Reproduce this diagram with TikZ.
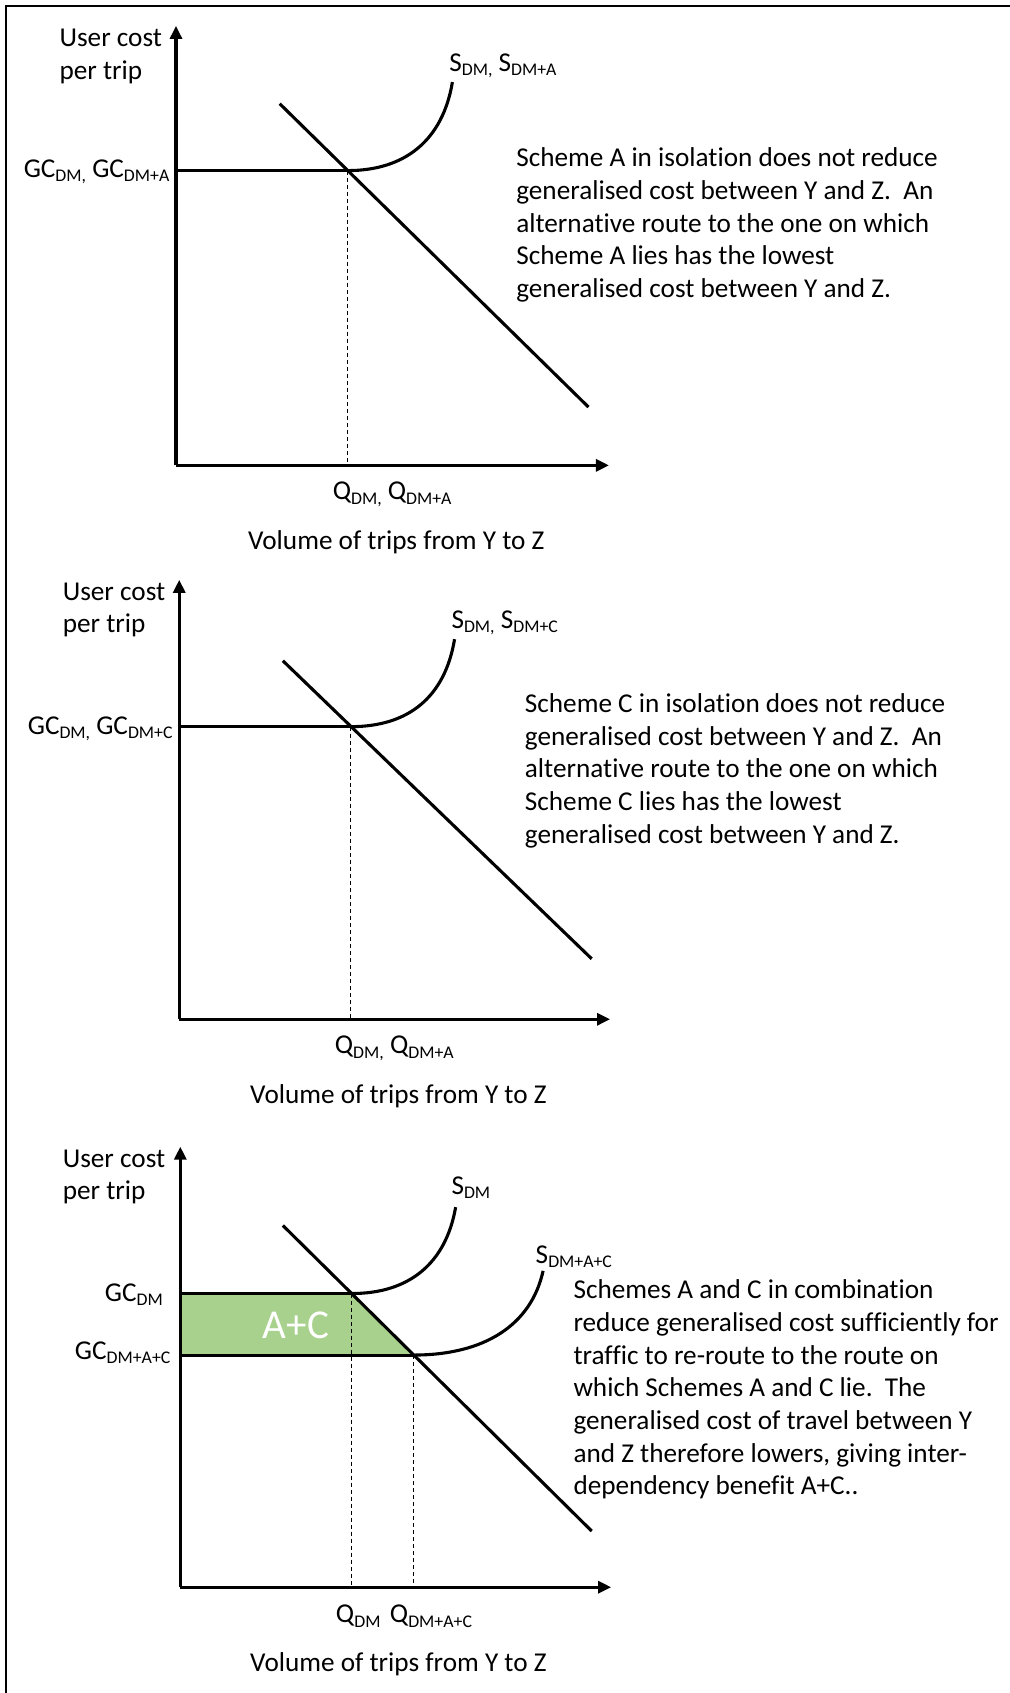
\documentclass[tikz,border=0pt]{standalone}
\usepackage{fontspec}
\setmainfont{Carlito}[Ligatures=NoCommon]
\usetikzlibrary{arrows.meta}
\definecolor{acfill}{HTML}{A9D18E}
\newcommand\sbs[1]{\raisebox{-4.5pt}{\fontsize{17.8}{17.8}\selectfont #1}}
\newcommand\ptext[1]{\parbox[t]{480pt}{\raggedright #1}}
\begin{document}
\begin{tikzpicture}[x=1.0791pt,y=-1.0791pt,
  lbl/.style={inner sep=0pt, font=\fontsize{27.2}{32.6}\selectfont},
  ax/.style={line width=3.1pt, -{Triangle[length=13pt,width=12pt]}},
  crv/.style={line width=3.1pt},
  drop/.style={line width=1pt, dash pattern=on 4pt off 3pt},
  para/.style={lbl, anchor=base west},
  frame/.style={line width=2pt}
]
\useasboundingbox (0,0) rectangle (935,1568);
\draw[frame] (5.6,1568) -- (5.6,5.6) -- (935,5.6);

% ================= Panel 1 =================
\coordinate (o1) at (163,431);
\coordinate (yt1) at (163,24);
\coordinate (xt1) at (564,431);
\coordinate (g1) at (163,158);
\coordinate (e1) at (322,158);
\coordinate (q1) at (322,431);
\coordinate (s1) at (419,76);
\coordinate (d1a) at (259,96);
\coordinate (d1b) at (545,377);
\draw[ax] (o1) -- (yt1);
\draw[ax] (o1) -- (xt1);
\draw[crv] (g1) -- (e1);
\draw[crv] (e1) .. controls +(53,0) and +(-9,54) .. (s1);
\draw[crv] (d1a) -- (d1b);
\draw[drop] (e1) -- (q1);
\node[lbl, anchor=base west] (uc1) at (55,43) {\ptext{User cost\\per trip}};
\node[lbl, anchor=base west] (sl1) at (416,66) {S\sbs{DM,} S\sbs{DM+A}};
\node[lbl, anchor=base east] (gl1) at (157,164) {GC\sbs{DM,} GC\sbs{DM+A}};
\node[lbl, anchor=base west] (ql1) at (308,463) {Q\sbs{DM,} Q\sbs{DM+A}};
\node[lbl, anchor=base] (vl1) at (367,509) {Volume of trips from Y to Z};
\node[para] (p1) at (478,154.5) {\ptext{Scheme A in isolation does not reduce\\
generalised cost between Y and Z.\ \ An\\
alternative route to the one on which\\
Scheme A lies has the lowest\\
generalised cost between Y and Z.}};

% ================= Panel 2 =================
\coordinate (o2) at (166,944);
\coordinate (yt2) at (166,537);
\coordinate (xt2) at (565,944);
\coordinate (g2) at (166,673);
\coordinate (e2) at (325,673);
\coordinate (q2) at (325,944);
\coordinate (s2) at (421,592);
\coordinate (d2a) at (262,612);
\coordinate (d2b) at (548,888);
\draw[ax] (o2) -- (yt2);
\draw[ax] (o2) -- (xt2);
\draw[crv] (g2) -- (e2);
\draw[crv] (e2) .. controls +(53,0) and +(-9,54) .. (s2);
\draw[crv] (d2a) -- (d2b);
\draw[drop] (e2) -- (q2);
\node[lbl, anchor=base west] (uc2) at (58,556) {\ptext{User cost\\per trip}};
\node[lbl, anchor=base west] (sl2) at (418,582) {S\sbs{DM,} S\sbs{DM+C}};
\node[lbl, anchor=base east] (gl2) at (160,680) {GC\sbs{DM,} GC\sbs{DM+C}};
\node[lbl, anchor=base west] (ql2) at (310,976) {Q\sbs{DM,} Q\sbs{DM+A}};
\node[lbl, anchor=base] (vl2) at (369,1022) {Volume of trips from Y to Z};
\node[para] (p2) at (486,660) {\ptext{Scheme C in isolation does not reduce\\
generalised cost between Y and Z.\ \ An\\
alternative route to the one on which\\
Scheme C lies has the lowest\\
generalised cost between Y and Z.}};

% ================= Panel 3 =================
\coordinate (o3) at (167,1470);
\coordinate (yt3) at (167,1062);
\coordinate (xt3) at (566,1470);
\coordinate (g3a) at (167,1198);
\coordinate (g3b) at (167,1255);
\coordinate (e3a) at (326,1198);
\coordinate (e3b) at (383,1255);
\coordinate (q3a) at (326,1470);
\coordinate (q3b) at (383,1470);
\coordinate (s3a) at (422,1118);
\coordinate (s3b) at (503,1177);
\coordinate (d3a) at (262,1135);
\coordinate (d3b) at (548,1418);
\fill[acfill] (g3a) -- (e3a) -- (e3b) -- (g3b) -- cycle;
\draw[ax] (o3) -- (yt3);
\draw[ax] (o3) -- (xt3);
\draw[crv] (g3a) -- (e3a);
\draw[crv] (g3b) -- (e3b);
\draw[crv] (e3a) .. controls +(53,0) and +(-9,52) .. (s3a);
\draw[crv] (e3b) .. controls +(66,0) and +(-11,50) .. (s3b);
\draw[crv] (d3a) -- (d3b);
\draw[drop] (e3a) -- (q3a);
\draw[drop] (e3b) -- (q3b);
\node[inner sep=0pt, text=white, font=\fontsize{41}{41}\selectfont] (ac) at (274,1227) {A+C};
\node[lbl, anchor=base west] (uc3) at (58,1081) {\ptext{User cost\\per trip}};
\node[lbl, anchor=base west] (sl3a) at (418,1106) {S\sbs{DM}};
\node[lbl, anchor=base west] (sl3b) at (496,1170) {S\sbs{DM+A+C}};
\node[lbl, anchor=base east] (gl3a) at (151,1205) {GC\sbs{DM}};
\node[lbl, anchor=base east] (gl3b) at (158,1259) {GC\sbs{DM+A+C}};
\node[lbl, anchor=base west] (ql3a) at (311,1503) {Q\sbs{DM}};
\node[lbl, anchor=base west] (ql3b) at (361,1503) {Q\sbs{DM+A+C}};
\node[lbl, anchor=base] (vl3) at (369,1548) {Volume of trips from Y to Z};
\node[para] (p3) at (531,1203) {\ptext{Schemes A and C in combination\\
reduce generalised cost sufficiently for\\
traffic to re-route to the route on\\
which Schemes A and C lie.\ \ The\\
generalised cost of travel between Y\\
and Z therefore lowers, giving inter-\\
dependency benefit A+C..}};
\end{tikzpicture}
\end{document}
